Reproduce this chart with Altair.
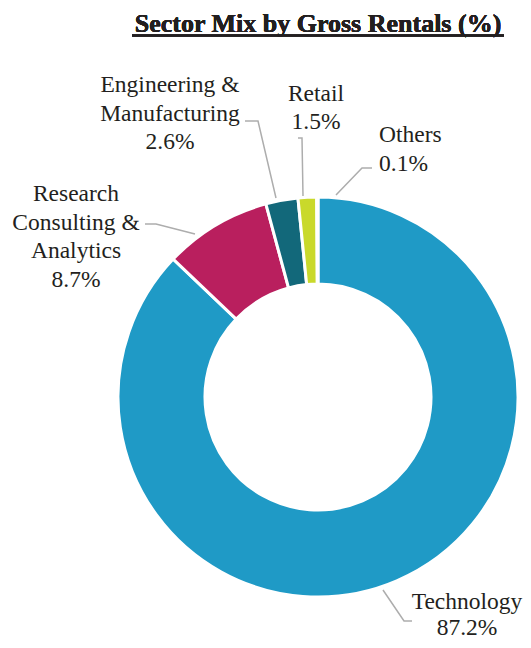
import altair as alt
import pandas as pd

# ---- data ----
sectors = ["Technology", "Research Consulting & Analytics",
           "Engineering & Manufacturing", "Retail", "Others"]
shares = [87.2, 8.7, 2.6, 1.5, 0.1]
name_lines = [["Technology"], ["Research", "Consulting &", "Analytics"],
              ["Engineering &", "Manufacturing"], ["Retail"], ["Others"]]
title_text = "Sector Mix by Gross Rentals (%)"

# ---- styles / layout ----
colors = ["#1F9AC6", "#B91F5E", "#12687A", "#C9D92B", "#A0A0A0"]
W, H = 515, 632
CX, CY = 310, 389
R_OUT, R_IN = 200, 113
FONT = "Liberation Serif, Times New Roman, serif"
LINE_H = 28.5
# label anchor (x, y of first line middle, align) in chart pixels
label_pos = {
    "Technology": (459, 594, "center"),
    "Research Consulting & Analytics": (68, 186, "center"),
    "Engineering & Manufacturing": (162, 77, "center"),
    "Retail": (308, 85.5, "center"),
    "Others": (371, 127, "left"),
}
tech_line_h = 25.5
leader_pts = {
    "Technology": [(375, 582), (396, 613), (404, 613)],
    "Research Consulting & Analytics": [(137, 216), (148, 216), (187, 226)],
    "Engineering & Manufacturing": [(237, 113), (250, 113), (268, 190)],
    "Retail": [(290, 130), (294, 130), (295, 188)],
    "Others": [(364, 160), (354, 160), (328, 187)],
}

df = pd.DataFrame({"sector": sectors, "share": shares, "idx": range(len(sectors))})

rows = []
for s, v, lines in zip(sectors, shares, name_lines):
    x, y, al = label_pos[s]
    lh = tech_line_h if s == "Technology" else LINE_H
    for i, t in enumerate(lines + [f"{v:.1f}%"]):
        rows.append({"sector": s, "text": t, "x": x, "y": y + i * lh, "align": al})
labels = pd.DataFrame(rows)

lrows = []
for s in sectors:
    for i, (x, y) in enumerate(leader_pts[s]):
        lrows.append({"sector": s, "i": i, "x": x, "y": y})
leaders = pd.DataFrame(lrows)

xs = alt.Scale(domain=[0, W], range=[0, W])
ys = alt.Scale(domain=[0, H], range=[0, H])

arc = alt.Chart(df).mark_arc(outerRadius=R_OUT, innerRadius=R_IN,
                             stroke="white", strokeWidth=3).encode(
    theta=alt.Theta("share:Q", stack=True),
    color=alt.Color("sector:N", scale=alt.Scale(domain=sectors, range=colors), legend=None),
    order=alt.Order("idx:Q"),
    x=alt.value(CX), y=alt.value(CY),
)

lines_layer = alt.Chart(leaders).mark_line(color="#ADADAD", strokeWidth=1.5).encode(
    x=alt.X("x:Q", scale=xs, axis=None),
    y=alt.Y("y:Q", scale=ys, axis=None),
    detail="sector:N",
    order="i:Q",
)

def text_layer(al):
    return alt.Chart(labels).transform_filter(alt.datum.align == al).mark_text(
        font=FONT, fontSize=23.5, color="#231F20", align=al, baseline="middle"
    ).encode(
        x=alt.X("x:Q", scale=xs, axis=None),
        y=alt.Y("y:Q", scale=ys, axis=None),
        text="text:N",
    )

title = alt.Chart(df).mark_text(
    text=title_text, font=FONT, fontSize=26, fontWeight="bold",
    color="#231F20", align="center", baseline="alphabetic"
).encode(x=alt.value(310), y=alt.value(23.5))

underline = alt.Chart(df).mark_rule(color="#231F20", strokeWidth=2).encode(
    x=alt.value(124), x2=alt.value(496), y=alt.value(27.5)
)

chart = alt.layer(arc, lines_layer, text_layer("center"), text_layer("left"),
                  title, underline).properties(
    width=W, height=H, padding=0, autosize=alt.AutoSizeParams(type="none")
).configure_view(stroke=None)

chart.save("out.html", embed_options={"renderer": "svg", "actions": False})
